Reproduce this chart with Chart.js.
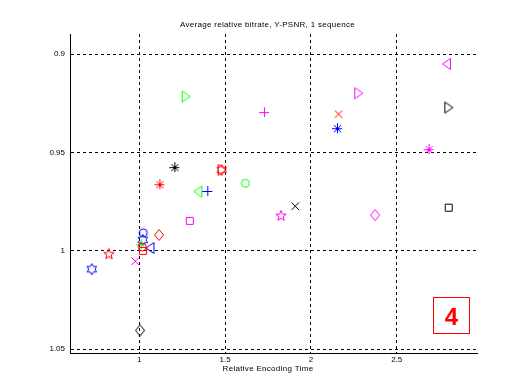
<!DOCTYPE html>
<html><head><meta charset="utf-8">
<script src="https://cdn.jsdelivr.net/npm/chart.js@4/dist/chart.umd.min.js"></script>
<style>html,body{margin:0;padding:0;background:#fff;}</style>
</head><body>
<canvas id="c" width="530" height="387"></canvas>
<script>
// ---- data ----
const chartTitle = 'Average relative bitrate, Y-PSNR, 1 sequence';
const xAxisLabel = 'Relative Encoding Time';
const xTickValues = [1, 1.5, 2, 2.5];
const xTickLabels = ['1', '1.5', '2', '2.5'];
const yTickValues = [0.9, 0.95, 1, 1.05];
const yTickLabels = ['0.9', '0.95', '1', '1.05'];
const panelNumber = '4';

const encodingTime = [2.793, 1.270, 2.276, 2.801, 1.727, 2.160, 2.152, 2.686, 1.204, 1.480, 1.480,
  1.117, 1.618, 1.344, 1.396, 1.907, 1.826, 1.294, 2.374, 2.803, 1.115, 1.023, 1.020,
  1.008, 1.065, 1.022, 1.017, 0.823, 0.975, 0.723, 1.004];
const relativeBitrate = [0.9049, 0.9215, 0.9198, 0.9271, 0.9294, 0.9303, 0.9376, 0.9483, 0.9574, 0.9588, 0.9588,
  0.9661, 0.9656, 0.9698, 0.9695, 0.9771, 0.9822, 0.9847, 0.9818, 0.9780, 0.9919, 0.9908, 0.9944,
  0.9966, 0.9985, 1.0000, 0.9980, 1.0017, 1.0051, 1.0093, 1.0404];
const markerShapes = ['<', '>', '>', '>', '+', 'x', '*', '*', '*', 'h', '>',
  '*', 'o', '<', '+', 'x', 'p', 's', 'd', 's', 'd', 'o', 'h',
  '+', '<', 's', 'o', 'p', 'x', 'h', 'd'];
const markerColors = ['#ff00ff', '#00ff00', '#ff00ff', '#000000', '#ff00ff', '#ff0000', '#0000ff', '#ff00ff', '#000000', '#ff0000', '#ff0000',
  '#ff0000', '#00ff00', '#00ff00', '#0000ff', '#000000', '#ff00ff', '#ff00ff', '#ff00ff', '#000000', '#ff0000', '#0000ff', '#0000ff',
  '#00ff00', '#0000ff', '#ff0000', '#ff0000', '#ff0000', '#ff00ff', '#0000ff', '#000000'];

// ---- marker images (MATLAB-like outlines) ----
function makeMarker(shape, color) {
  const S = 16, m = 8;
  const c = document.createElement('canvas');
  c.width = S; c.height = S;
  const g = c.getContext('2d');
  g.strokeStyle = color; g.lineWidth = 1; g.beginPath();
  const star = (n, ro, ri) => {
    for (let i = 0; i < 2 * n; i++) {
      const a = -Math.PI / 2 + i * Math.PI / n;
      const r = i % 2 === 0 ? ro : ri;
      const px = m + r * Math.cos(a), py = m + r * Math.sin(a);
      if (i === 0) g.moveTo(px, py); else g.lineTo(px, py);
    }
    g.closePath();
  };
  switch (shape) {
    case 'o': g.arc(m, m, 4, 0, 2 * Math.PI); break;
    case 's': g.rect(4.5, 4.5, 7, 7); break;
    case 'd': g.moveTo(m, 2.5); g.lineTo(12.5, m); g.lineTo(m, 13.5); g.lineTo(3.5, m); g.closePath(); break;
    case '>': g.moveTo(4.5, 2.5); g.lineTo(12.5, m); g.lineTo(4.5, 13.5); g.closePath(); break;
    case '<': g.moveTo(11.5, 2.5); g.lineTo(3.5, m); g.lineTo(11.5, 13.5); g.closePath(); break;
    case '+': g.moveTo(3, m + 0.5); g.lineTo(13, m + 0.5); g.moveTo(m + 0.5, 3); g.lineTo(m + 0.5, 13); break;
    case 'x': g.moveTo(4.5, 4.5); g.lineTo(12, 12); g.moveTo(12, 4.5); g.lineTo(4.5, 12); break;
    case '*': g.moveTo(3, m + 0.5); g.lineTo(13, m + 0.5); g.moveTo(m + 0.5, 3); g.lineTo(m + 0.5, 13);
      g.moveTo(5, 5); g.lineTo(12, 12); g.moveTo(12, 5); g.lineTo(5, 12); break;
    case 'p': star(5, 5.5, 2.3); break;
    case 'h': star(6, 5.5, 3.2); break;
  }
  g.stroke();
  return c;
}

const pointImages = markerShapes.map((s, i) => makeMarker(s, markerColors[i]));
const points = encodingTime.map((x, i) => ({ x: x, y: relativeBitrate[i] }));

const FONT = 'Liberation Sans, Arial, sans-serif';

const annotations = {
  id: 'annotations',
  afterDraw(chart) {
    const ctx = chart.ctx;
    ctx.save();
    ctx.fillStyle = '#000';
    ctx.font = '8px ' + FONT;
    ctx.textAlign = 'center'; ctx.textBaseline = 'middle';
    try { ctx.letterSpacing = '0.3px'; } catch (e) {}
    ctx.fillText(chartTitle, 267.5, 25);
    ctx.fillText(xAxisLabel, 268, 369);
    try { ctx.letterSpacing = '0px'; } catch (e) {}
    // panel number box
    ctx.strokeStyle = '#ff0000'; ctx.lineWidth = 1;
    ctx.strokeRect(433.5, 297.5, 36, 36);
    ctx.fillStyle = '#ff0000';
    ctx.font = 'bold 24px ' + FONT;
    ctx.fillText(panelNumber, 451.5, 318);
    ctx.restore();
  }
};

new Chart(document.getElementById('c'), {
  type: 'scatter',
  data: {
    datasets: [{
      data: points,
      pointStyle: pointImages,
      pointRadius: 5,
      borderColor: markerColors,
      backgroundColor: 'rgba(0,0,0,0)',
      showLine: false
    }]
  },
  plugins: [annotations],
  options: {
    responsive: false,
    animation: false,
    devicePixelRatio: 1,
    events: [],
    layout: { padding: { top: 34, right: 53, left: 0, bottom: 0 } },
    plugins: { legend: { display: false }, title: { display: false }, tooltip: { enabled: false } },
    scales: {
      x: {
        type: 'linear', min: 0.596, max: 2.968,
        afterBuildTicks: s => { s.ticks = xTickValues.map(v => ({ value: v })); },
        afterFit: s => { s.height = 34; },
        ticks: {
          color: '#000', font: { size: 8, family: FONT }, padding: 2, maxRotation: 0, autoSkip: false,
          callback: v => xTickLabels[xTickValues.indexOf(v)]
        },
        grid: { color: '#000', lineWidth: 1, drawTicks: false, tickLength: 0 },
        border: { display: true, color: '#000', width: 1, dash: [3, 3] }
      },
      y: {
        type: 'linear', reverse: true, min: 0.8897, max: 1.0519,
        afterBuildTicks: s => { s.ticks = yTickValues.map(v => ({ value: v })); },
        afterFit: s => { s.width = 70; },
        ticks: {
          color: '#000', font: { size: 8, family: FONT }, padding: 5, autoSkip: false,
          callback: v => yTickLabels[yTickValues.indexOf(v)]
        },
        grid: { color: '#000', lineWidth: 1, drawTicks: false, tickLength: 0 },
        border: { display: true, color: '#000', width: 1, dash: [3, 3] }
      }
    }
  }
});
</script>
</body></html>
